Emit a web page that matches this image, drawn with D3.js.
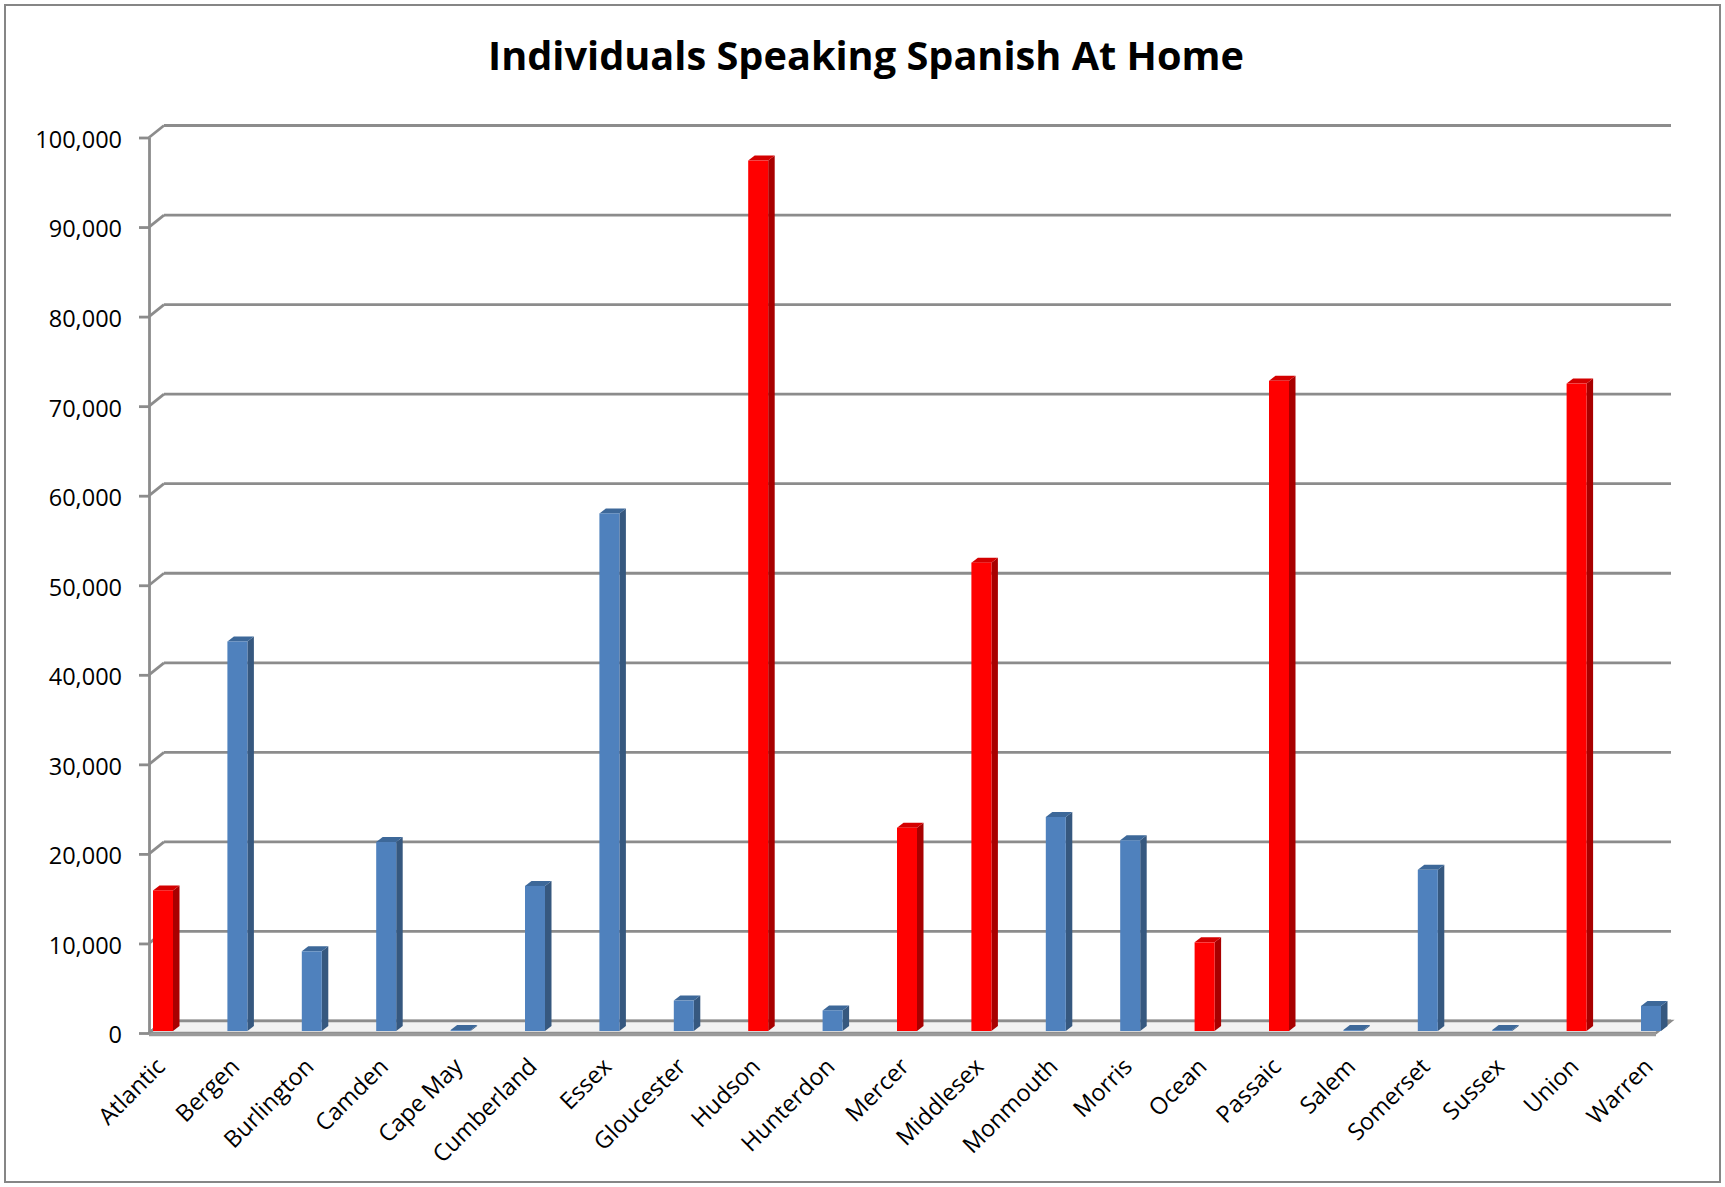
<!DOCTYPE html>
<html>
<head>
<meta charset="utf-8">
<script src="https://cdn.jsdelivr.net/npm/d3@7"></script>
<style>
  html, body { margin: 0; padding: 0; background: #fff; }
  svg { display: block; }
</style>
</head>
<body>
<svg id="chart" width="1725" height="1187"></svg>
<script>
// ---- data ----
const titleText = "Individuals Speaking Spanish At Home";
const categories = ["Atlantic", "Bergen", "Burlington", "Camden", "Cape May", "Cumberland", "Essex",
  "Gloucester", "Hudson", "Hunterdon", "Mercer", "Middlesex", "Monmouth", "Morris", "Ocean",
  "Passaic", "Salem", "Somerset", "Sussex", "Union", "Warren"];
const values = [15700, 43500, 8900, 21100, 100, 16200, 57800, 3400, 97200, 2300, 22700,
  52300, 23900, 21300, 9900, 72600, 100, 18000, 100, 72300, 2800];
const highlighted = ["Atlantic", "Hudson", "Mercer", "Middlesex", "Ocean", "Passaic", "Union"];
const yTicks = [0, 10000, 20000, 30000, 40000, 50000, 60000, 70000, 80000, 90000, 100000];

// ---- layout ----
const W = 1725, H = 1187;
const svg = d3.select("#chart");
const gridColor = "#8c8c8c";
const font = "'Open Sans', 'DejaVu Sans', sans-serif";

// oblique 3D depth vector for the floor/walls
const depth = { dx: 15, dy: -12 };
const axisX = 149;            // front y-axis x
const plotRightFront = 1656;  // front right corner of floor

const y = d3.scaleLinear().domain([0, 100000]).range([1033, 137.5]);
const x = d3.scalePoint().domain(categories).range([163, 1651]);

// chart border
svg.append("rect")
  .attr("x", 5).attr("y", 5).attr("width", W - 10).attr("height", H - 10)
  .attr("fill", "#fff").attr("stroke", "#868686").attr("stroke-width", 2);

// title
const title = svg.append("text")
  .attr("x", 866).attr("y", 70)
  .attr("text-anchor", "middle")
  .attr("font-family", font).attr("font-weight", 700)
  .attr("font-size", 40).attr("fill", "#000")
  .text(titleText);
const tw = title.node().getComputedTextLength();
title.attr("font-size", 40 * 756 / tw);

// gridlines on back wall + diagonals to front ticks
const grid = svg.append("g");
yTicks.forEach(t => {
  const yf = y(t);
  grid.append("line")
    .attr("x1", axisX + depth.dx).attr("y1", yf + depth.dy)
    .attr("x2", plotRightFront + depth.dx).attr("y2", yf + depth.dy)
    .attr("stroke", gridColor).attr("stroke-width", 2.8);
  grid.append("line")
    .attr("x1", axisX).attr("y1", yf)
    .attr("x2", axisX + depth.dx).attr("y2", yf + depth.dy)
    .attr("stroke", gridColor).attr("stroke-width", 2.8);
});

// floor slab
const y0 = y(0);
svg.append("polygon")
  .attr("points", [
    [axisX, y0], [plotRightFront, y0],
    [plotRightFront + depth.dx, y0 + depth.dy], [axisX + depth.dx, y0 + depth.dy]
  ].map(p => p.join(",")).join(" "))
  .attr("fill", "#f2f2f2").attr("stroke", gridColor).attr("stroke-width", 2.5);
svg.append("line")
  .attr("x1", axisX).attr("y1", y0 + 1.5)
  .attr("x2", plotRightFront).attr("y2", y0 + 1.5)
  .attr("stroke", "#9a9a9a").attr("stroke-width", 3.5);

// front y axis
const yAxis = svg.append("g")
  .attr("transform", `translate(${axisX},0)`)
  .call(d3.axisLeft(y).tickValues(yTicks).tickFormat(d3.format(","))
    .tickSize(10).tickSizeOuter(0).tickPadding(17));
yAxis.select(".domain").attr("stroke", gridColor).attr("stroke-width", 2.8);
yAxis.selectAll(".tick line").attr("stroke", gridColor).attr("stroke-width", 2.8);
yAxis.selectAll(".tick text")
  .attr("font-family", font).attr("font-size", 23.5).attr("fill", "#000")
  .attr("dy", "0.42em");

// bars (oblique 3D)
const barW = 20;
const bDepth = { dx: 6.5, dy: -5 };
const barYOffset = -2;   // bars sit slightly behind the front edge
const colors = {
  red: { front: "#ff0000", side: "#a80000", top: "#d40000" },
  blue: { front: "#4f81bd", side: "#36587f", top: "#3d6899" }
};
const bars = svg.append("g");
categories.forEach((c, i) => {
  const col = highlighted.includes(c) ? colors.red : colors.blue;
  const cx = x(c);
  const xl = cx - barW / 2, xr = cx + barW / 2;
  const yb = y(0) + barYOffset;
  const yt = y(values[i]) + barYOffset;
  const g = bars.append("g");
  g.append("polygon")
    .attr("points", [[xr, yt], [xr + bDepth.dx, yt + bDepth.dy], [xr + bDepth.dx, yb + bDepth.dy], [xr, yb]]
      .map(p => p.join(",")).join(" "))
    .attr("fill", col.side);
  g.append("polygon")
    .attr("points", [[xl, yt], [xr, yt], [xr + bDepth.dx, yt + bDepth.dy], [xl + bDepth.dx, yt + bDepth.dy]]
      .map(p => p.join(",")).join(" "))
    .attr("fill", col.top);
  g.append("rect")
    .attr("x", xl).attr("y", yt).attr("width", barW).attr("height", Math.max(0, yb - yt))
    .attr("fill", col.front);
});

// category labels
const xAxis = svg.append("g")
  .attr("transform", `translate(0,${y0 + 35})`)
  .call(d3.axisBottom(x).tickSize(0).tickPadding(0));
xAxis.select(".domain").remove();
xAxis.selectAll(".tick text")
  .attr("font-family", font).attr("font-size", 23.5).attr("fill", "#000")
  .attr("x", 0).attr("y", 0).attr("dy", 0)
  .attr("text-anchor", "end")
  .attr("transform", "translate(3,0) rotate(-45)");
</script>
</body>
</html>
